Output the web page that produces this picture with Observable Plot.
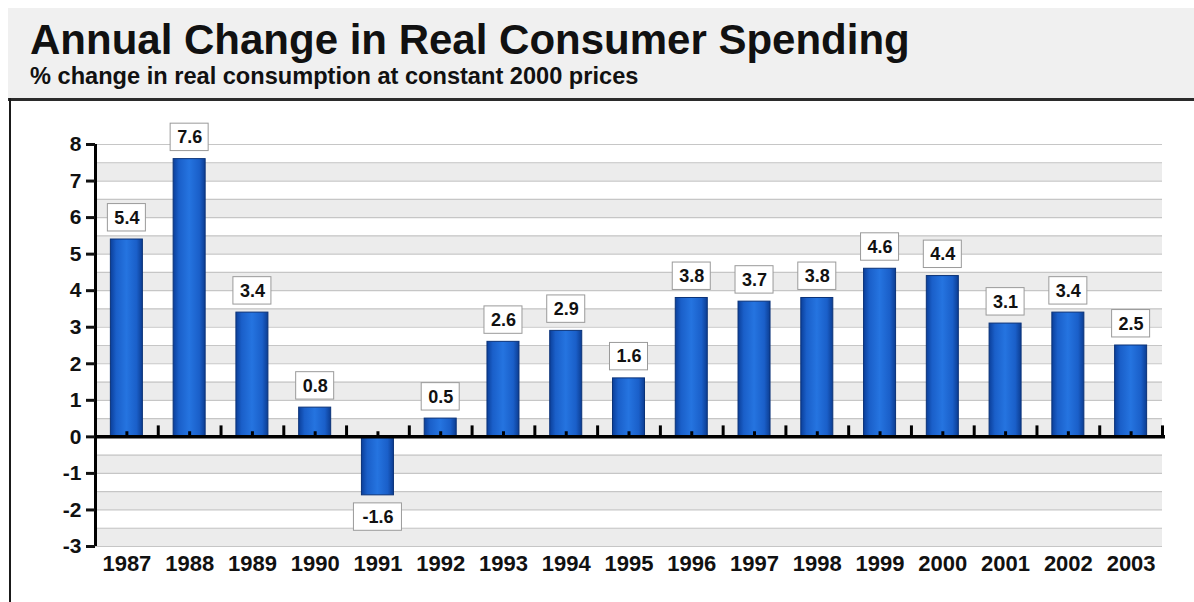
<!DOCTYPE html>
<html>
<head>
<meta charset="utf-8">
<script src="https://cdn.jsdelivr.net/npm/d3@7"></script>
<script src="https://cdn.jsdelivr.net/npm/@observablehq/plot@0.6"></script>
<style>
  html, body { margin: 0; padding: 0; background: #fff; }
  body { width: 1194px; height: 602px; position: relative; overflow: hidden;
         font-family: "Liberation Sans", Arial, Helvetica, sans-serif; }
  #head { position: absolute; left: 8px; top: 8px; width: 1186px; height: 90px; background: #f0f0f0; }
  #title { position: absolute; left: 22px; top: 13.5px; font-size: 42px; line-height: 36px; font-weight: bold; color: #111; white-space: nowrap; }
  #subtitle { position: absolute; left: 22px; top: 58px; font-size: 23.6px; line-height: 20px; font-weight: bold; color: #111; white-space: nowrap; }
  #rule-top { position: absolute; left: 8px; top: 98px; width: 1186px; height: 3px; background: #2b2b2b; }
  #rule-left { position: absolute; left: 9px; top: 98px; width: 2px; height: 504px; background: #1a1a1a; }
  #chart { position: absolute; left: 12px; top: 101px; }
  #chart svg text { font-weight: bold; fill: #111; }
  g[aria-label="bars"] { filter: drop-shadow(3px 1px 2px rgba(0,0,0,0.45)); }
  g[aria-label="label-boxes"] { filter: drop-shadow(2px 2px 1.5px rgba(0,0,0,0.35)); }
</style>
</head>
<body>
<div id="head">
  <div id="title">Annual Change in Real Consumer Spending</div>
  <div id="subtitle">% change in real consumption at constant 2000 prices</div>
</div>
<div id="rule-top"></div>
<div id="rule-left"></div>
<div id="chart"></div>
<script>
// Years on the horizontal axis
const years = ["1987", "1988", "1989", "1990", "1991", "1992", "1993", "1994", "1995",
               "1996", "1997", "1998", "1999", "2000", "2001", "2002", "2003"];
// Annual % change in real consumer spending
const changes = [5.4, 7.6, 3.4, 0.8, -1.6, 0.5, 2.6, 2.9, 1.6,
                 3.8, 3.7, 3.8, 4.6, 4.4, 3.1, 3.4, 2.5];
// Labelled ticks on the vertical axis
const yTicks = [-3, -2, -1, 0, 1, 2, 3, 4, 5, 6, 7, 8];
// Grid lines every half point
const gridLines = [-3, -2.5, -2, -1.5, -1, -0.5, 0, 0.5, 1, 1.5, 2, 2.5, 3, 3.5,
                   4, 4.5, 5, 5.5, 6, 6.5, 7, 7.5, 8];
// Lower edges of the shaded grid bands
const bandStarts = [-3, -2, -1, 0, 1, 2, 3, 4, 5, 6, 7];

const data = years.map((year, i) => ({year, value: changes[i], label: changes[i].toFixed(1)}));

const width = 1182, height = 501;
const marginLeft = 83, marginRight = 32, marginTop = 43, marginBottom = 56;
const halfStep = (width - marginLeft - marginRight) / years.length / 2;
const barPadding = 0.49;

// Label boxes sit a fixed distance off the bar end (in value units)
const gap = 0.22, boxH = 0.75;

const defs = () => {
  const ns = "http://www.w3.org/2000/svg";
  const d = document.createElementNS(ns, "defs");
  d.innerHTML = `
    <linearGradient id="barGrad" x1="0" x2="1" y1="0" y2="0">
      <stop offset="0" stop-color="#0b3f9a"/>
      <stop offset="0.18" stop-color="#1a5fc9"/>
      <stop offset="0.5" stop-color="#2574e0"/>
      <stop offset="0.82" stop-color="#1a5fc9"/>
      <stop offset="1" stop-color="#0c3d92"/>
    </linearGradient>`;
  return d;
};

const plot = Plot.plot({
  width, height, marginLeft, marginRight, marginTop, marginBottom,
  style: {fontFamily: '"Liberation Sans", Arial, sans-serif', background: "transparent", color: "#111"},
  x: {domain: years, paddingInner: barPadding, paddingOuter: barPadding / 2, round: false, label: null},
  y: {domain: [-3, 8], label: null},
  marks: [
    defs,
    Plot.rect(bandStarts, {y1: d => d, y2: d => d + 0.5, fill: "#ececec"}),
    Plot.ruleY(gridLines, {stroke: "#c6c6c6", strokeWidth: 1.2}),
    Plot.barY(data, {x: "year", y: "value", fill: "url(#barGrad)", stroke: "#0a3278", strokeWidth: 1, ariaLabel: "bars"}),
    // zero line with its ticks
    Plot.ruleY([0], {stroke: "#000", strokeWidth: 3.5, insetRight: -3}),
    Plot.ruleX(years, {x: d => d, dx: halfStep, y1: 0, y2: 0.3, stroke: "#000", strokeWidth: 3}),
    Plot.ruleX(years, {x: d => d, y1: 0, y2: 0.14, stroke: "#000", strokeWidth: 3}),
    // vertical axis line
    Plot.ruleX([years[0]], {x: d => d, dx: -halfStep, y1: -3, y2: 8, stroke: "#000", strokeWidth: 3}),
    Plot.axisY({ticks: yTicks, tickFormat: d => String(d), tickSize: 9, tickPadding: 5, strokeWidth: 3,
                fontSize: 21, fontWeight: "bold", label: null}),
    Plot.axisX({tickSize: 0, tickPadding: 9, fontSize: 22, fontWeight: "bold", label: null}),
    // value labels in boxes
    Plot.barY(data.filter(d => d.value >= 0), {
      x: "year", y1: d => d.value + gap, y2: d => d.value + gap + boxH,
      insetLeft: -3, insetRight: -3, fill: "#fff", stroke: "#9a9a9a", strokeWidth: 1, ariaLabel: "label-boxes"}),
    Plot.barY(data.filter(d => d.value < 0), {
      x: "year", y1: d => d.value - gap, y2: d => d.value - gap - boxH,
      insetLeft: -8, insetRight: -8, fill: "#fff", stroke: "#9a9a9a", strokeWidth: 1, ariaLabel: "label-boxes"}),
    Plot.text(data, {
      x: "year", y: d => d.value >= 0 ? d.value + gap + boxH / 2 : d.value - gap - boxH / 2,
      text: "label", fontSize: 18, fontWeight: "bold", fill: "#111"})
  ]
});

document.getElementById("chart").appendChild(plot);
</script>
</body>
</html>
